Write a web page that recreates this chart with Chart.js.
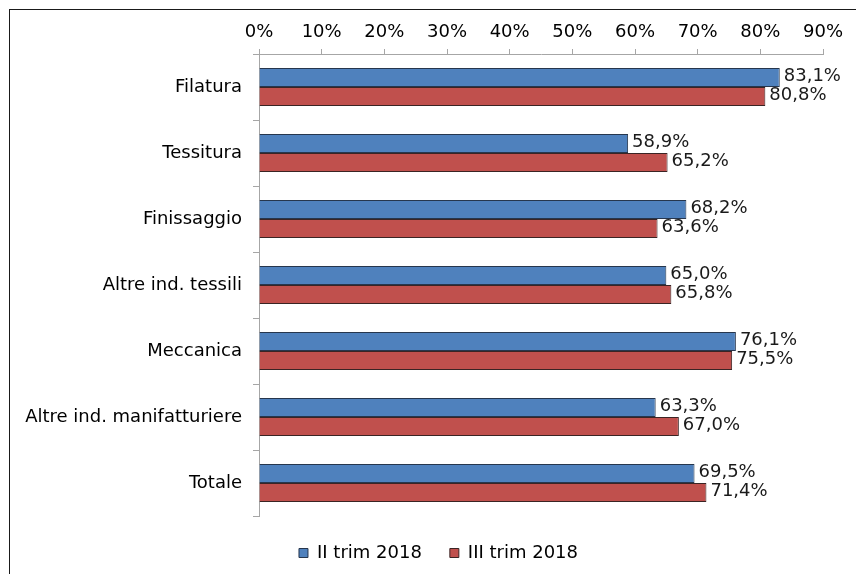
<!DOCTYPE html>
<html>
<head>
<meta charset="utf-8">
<script src="https://cdn.jsdelivr.net/npm/chart.js@4.4.0/dist/chart.umd.min.js"></script>
<style>
	body { margin: 0; background: #fff; }
	#wrap { position: relative; width: 856px; height: 574px; overflow: hidden; }
	#frame { position: absolute; left: 9px; top: 9px; width: 900px; height: 600px;
		border-top: 1px solid #1a1a1a; border-left: 1px solid #1a1a1a; pointer-events: none; }
	canvas { position: absolute; left: 0; top: 0; }
</style>
</head>
<body>
<div id="wrap">
	<canvas id="chart" width="856" height="574"></canvas>
	<div id="frame"></div>
</div>
<script>

var categories = ["Filatura", "Tessitura", "Finissaggio", "Altre ind. tessili", "Meccanica", "Altre ind. manifatturiere", "Totale"];
var seriesNames = ["II trim 2018", "III trim 2018"];
var trim2 = [83.1, 58.9, 68.2, 65.0, 76.1, 63.3, 69.5];
var trim3 = [80.8, 65.2, 63.6, 65.8, 75.5, 67.0, 71.4];
var tickValues = [0, 10, 20, 30, 40, 50, 60, 70, 80, 90];

var FONT = "DejaVu Sans";
var FSIZE = 18;
var AXIS_GREY = "#a6a6a6";

var formatPct = function(v){
	return v.toFixed(1).replace(".", ",") + "%";
}

// writes the value just past the end of each bar
var valueLabels = {
	id: "valueLabels",
	afterDatasetsDraw: function(chart){
		var ctx = chart.ctx;
		ctx.save();
		ctx.font = FSIZE + "px '" + FONT + "'";
		ctx.fillStyle = "#1a1a1a";
		ctx.textAlign = "left";
		ctx.textBaseline = "middle";
		chart.data.datasets.forEach(function(ds, i){
			var meta = chart.getDatasetMeta(i);
			meta.data.forEach(function(bar, j){
				ctx.fillText(formatPct(ds.data[j]), bar.x + 4, bar.y - 1);
			});
		});
		ctx.restore();
	}
};

// legend sits a bit right of the canvas centre in the original
var legendShift = {
	id: "legendShift",
	afterLayout: function(chart){
		chart.legend.left += 27;
		chart.legend.right += 27;
	}
};

var ctx = document.getElementById("chart").getContext("2d");
var chart = new Chart(ctx, {
	type: "bar",
	data: {
		labels: categories,
		datasets: [
			{
				label: seriesNames[0],
				data: trim2,
				backgroundColor: "#4f81bd",
				borderColor: "#26364d",
				borderWidth: 1
			},
			{
				label: seriesNames[1],
				data: trim3,
				backgroundColor: "#c0504d",
				borderColor: "#3a2424",
				borderWidth: 1
			}
		]
	},
	options: {
		indexAxis: "y",
		responsive: false,
		animation: false,
		devicePixelRatio: 1,
		layout: { padding: { left: 0, right: 33, top: 0, bottom: 2 } },
		datasets: { bar: { categoryPercentage: 0.576, barPercentage: 1 } },
		scales: {
			x: {
				position: "top",
				min: 0,
				max: 90,
				afterBuildTicks: function(scale){
					scale.ticks = tickValues.map(function(v){ return { value: v }; });
				},
				afterFit: function(scale){ scale.height = 54; },
				grid: { drawOnChartArea: false, drawTicks: true, tickLength: 5, color: AXIS_GREY },
				border: { display: true, color: AXIS_GREY },
				ticks: {
					padding: 6,
					color: "#000",
					font: { family: FONT, size: FSIZE },
					callback: function(v){ return v + "%"; }
				}
			},
			y: {
				position: "left",
				afterFit: function(scale){ scale.width = 259; },
				grid: { offset: true, drawOnChartArea: false, drawTicks: true, tickLength: 6, color: AXIS_GREY },
				border: { display: true, color: AXIS_GREY },
				ticks: {
					padding: 11,
					color: "#000",
					font: { family: FONT, size: FSIZE }
				}
			}
		},
		plugins: {
			legend: {
				position: "bottom",
				labels: {
					boxWidth: 9,
					boxHeight: 9,
					padding: 28,
					color: "#000",
					font: { family: FONT, size: FSIZE }
				}
			},
			tooltip: { enabled: false }
		}
	},
	plugins: [valueLabels, legendShift]
});

</script>
</body>
</html>
